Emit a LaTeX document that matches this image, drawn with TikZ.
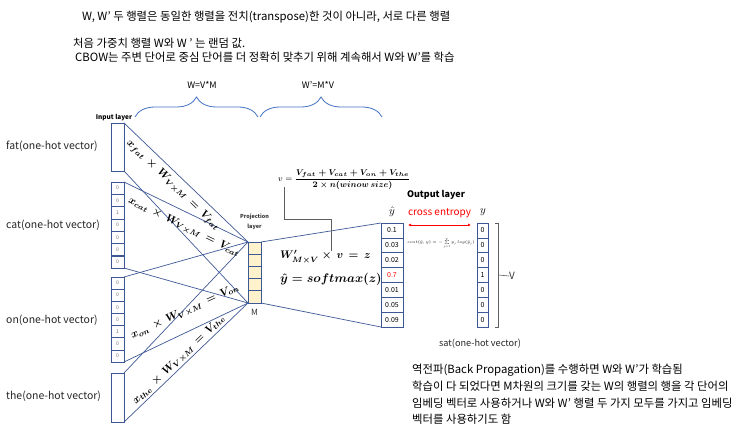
\RequirePackage{fix-cm}
\documentclass[tikz,border=0pt]{standalone}
\usepackage{amsmath}
\usepackage{fontspec}
\setmainfont{Noto Sans CJK KR}
\usetikzlibrary{decorations.pathreplacing,arrows.meta}
\definecolor{lineblue}{RGB}{62,88,150}
\definecolor{braceblue}{RGB}{68,114,196}
\definecolor{projfill}{RGB}{255,242,204}
\definecolor{mygray}{RGB}{95,95,95}
\definecolor{celltext}{RGB}{110,110,110}
\newcommand{\myfs}[1]{\fontsize{#1}{#1}\selectfont}
\tikzset{
  conn/.style={draw=lineblue, line width=0.7bp},
  vecbox/.style={draw=lineblue, line width=0.7bp, minimum width=13bp, inner sep=0pt, outer sep=0pt},
  incell/.style={draw=lineblue, line width=0.5bp, minimum width=13bp, minimum height=12.25bp, inner sep=0pt, outer sep=0pt, font=\myfs{5}, text=celltext},
  projcell/.style={draw=lineblue, line width=0.6bp, fill=projfill, minimum width=13bp, minimum height=12.2bp, inner sep=0pt, outer sep=0pt},
  outcell/.style={draw=lineblue, line width=0.6bp, minimum width=22bp, minimum height=14.86bp, inner sep=0pt, outer sep=0pt, font=\myfs{7}},
  ycell/.style={draw=lineblue, line width=0.6bp, minimum width=11bp, minimum height=14.86bp, inner sep=0pt, outer sep=0pt, font=\myfs{7}},
  ktext/.style={font=\myfs{11.4}, inner sep=0pt, anchor=west},
  wlabel/.style={font=\myfs{10.5}, inner sep=0pt, anchor=west, text=black!85},
  eqn/.style={font=\myfs{11}\boldmath, inner sep=0pt},
  curly/.style={draw=braceblue, line width=0.8bp, decorate, decoration={brace, amplitude=20bp, aspect=0.5}},
  vline/.style={draw=mygray, line width=0.6bp},
}
\begin{document}
\begin{tikzpicture}[x=1bp,y=-1bp]
\fill[white] (0,0) rectangle (746,433);
\useasboundingbox (0,0) rectangle (746,433);

% top texts
\node[ktext] (t1) at (82,17) {W, W' 두 행렬은 동일한 행렬을 전치(transpose)한 것이 아니라, 서로 다른 행렬};
\node[ktext] (t2) at (73,43) {처음 가중치 행렬 W와 W ' 는 랜덤 값.};
\node[ktext] (t3) at (75,57) {CBOW는 주변 단어로 중심 단어를 더 정확히 맞추기 위해 계속해서 W와 W'를 학습};

% braces
\draw[curly] (135,117) -- (258,117);
\draw[curly] (260,117) -- (382,117);
\node[font=\myfs{9}, inner sep=0pt] (wlab1) at (202,85) {W=V*M};
\node[font=\myfs{9}, inner sep=0pt] (wlab2) at (318,85) {W'=M*V};

% input layer
\node[font=\myfs{6.5}\bfseries, inner sep=0pt] (inlab) at (114,118) {Input layer};
\node[vecbox, minimum height=48bp] (fat) at (117.5,147) {};
\foreach \v [count=\i] in {0,0,1,0,0,0,0}
  \node[incell] (cat\i) at (117.5,{182+12.29*(\i-0.5)}) {\v};
\foreach \v [count=\i] in {0,0,0,0,1,0,0}
  \node[incell, minimum height=12.14bp] (on\i) at (117.5,{277+12.14*(\i-0.5)}) {\v};
\node[vecbox, minimum height=49bp] (the) at (117.5,397.5) {};

\node[wlabel] (lfat) at (6,146) {fat(one-hot vector)};
\node[wlabel] (lcat) at (6,225) {cat(one-hot vector)};
\node[wlabel] (lon) at (6,320) {on(one-hot vector)};
\node[wlabel] (lthe) at (6,396) {the(one-hot vector)};

% projection layer
\foreach \i in {1,...,5}
  \node[projcell] (p\i) at (254.5,{242+12.2*(\i-0.5)}) {};
\node[font=\myfs{5.5}\bfseries, inner sep=0pt, text=black!80] (plab1) at (254.5,217) {Projection};
\node[font=\myfs{5.5}\bfseries, inner sep=0pt, text=black!80] (plab2) at (254.5,227) {layer};
\node[font=\myfs{8.5}, inner sep=0pt, text=black!80] (mlab) at (254.5,312) {M};

% connectors input -> projection
\draw[conn] (fat.north east) -- (p1.north west);
\draw[conn] (fat.south east) -- (p5.south west);
\draw[conn] (cat1.north east) -- (p1.north west);
\draw[conn] (cat7.south east) -- (p5.south west);
\draw[conn] (on1.north east) -- (p1.north west);
\draw[conn] (on7.south east) -- (p5.south west);
\draw[conn] (the.north east) -- (p1.north west);
\draw[conn] (the.south east) -- (p5.south west);

% formulas along connectors
\node[eqn, rotate=-44] (eqfat) at (173,185) {$x_{fat}\,\times\,W_{V\times M}\,=\,V_{fat}$};
\node[eqn, rotate=-26] (eqcat) at (184,227) {$x_{cat}\,\times\,W_{V\times M}\,=\,V_{cat}$};
\node[eqn, rotate=25] (eqon) at (185,312) {$x_{on}\,\times\,W_{V\times M}\,=\,V_{on}$};
\node[eqn, rotate=44] (eqthe) at (179,360) {$x_{the}\,\times\,W_{V\times M}\,=\,V_{the}$};

% output layer
\foreach \v [count=\i] in {0.1,0.03,0.02,{\textcolor{red}{0.7}},0.01,0.05,0.09}
  \node[outcell] (yh\i) at (392,{223+14.86*(\i-0.5)}) {\v};
\foreach \v [count=\i] in {0,0,0,1,0,0,0}
  \node[ycell] (y\i) at (482.5,{223+14.86*(\i-0.5)}) {\v};
\draw[conn] (p1.north east) -- (yh1.north west);
\draw[conn] (p5.south east) -- (yh7.south west);

\node[font=\myfs{11}, inner sep=0pt] (yhlab) at (392,212) {$\hat{y}$};
\node[font=\myfs{11}, inner sep=0pt] (ylab) at (483,212) {$y$};
\node[font=\myfs{9}\bfseries, inner sep=0pt] (outlab) at (436,195) {Output layer};
\node[font=\myfs{10}, text=red, inner sep=0pt] (ce) at (439.5,213) {cross entropy};
\coordinate (cea) at (408,225);
\coordinate (ceb) at (471,225);
\draw[red, line width=0.7bp, {Latex[length=3bp,width=3bp]}-{Latex[length=3bp,width=3bp]}] (cea) -- (ceb);
\node[font=\myfs{4}, inner sep=0pt] (cost) at (441,243) {$cost(\hat y,y)=-\sum\limits_{j=1}^{V}y_j\,log(\hat y_j)$};

% V bracket
\draw[vline] (495,223) -- (498.5,223) -- (498.5,327) -- (495,327);
\coordinate (vmid) at (498.5,275);
\node[font=\myfs{10}, inner sep=0pt, anchor=west, text=black!80] (vlab) at (509,276) {V};
\draw[vline] (vmid) -- (vlab.west);
\node[font=\myfs{9.2}, inner sep=0pt, text=black!85] (sat) at (480,344) {sat(one-hot vector)};

% v definition and projection equations
\node[font=\myfs{8.5}, inner sep=0pt, anchor=west] (vdef) at (278,180) {$v=\dfrac{\boldsymbol{V_{fat}+V_{cat}+V_{on}+V_{the}}}{\boldsymbol{2\times n(winow\ size)}}$};
\node[eqn, font=\myfs{11}\boldmath, anchor=west] (eqz) at (280,257) {$W'_{M\times V}\times\,v\,=\,z$};
\node[eqn, font=\myfs{12.5}\boldmath, anchor=west] (eqsm) at (280,279) {$\hat{y}=softmax(z)$};
\coordinate (vtop) at (284,187);
\coordinate (vbot) at (331,251);
\draw[vline] (vtop) -- (284,219) -- (331,219) -- (vbot);

% bottom right text
\node[ktext] (b1) at (412,370) {역전파(Back Propagation)를 수행하면 W와 W'가 학습됨};
\node[ktext] (b2) at (412,386) {학습이 다 되었다면 M차원의 크기를 갖는 W의 행렬의 행을 각 단어의};
\node[ktext] (b3) at (412,403) {임베딩 벡터로 사용하거나 W와 W' 행렬 두 가지 모두를 가지고 임베딩};
\node[ktext] (b4) at (412,419) {벡터를 사용하기도 함};
\end{tikzpicture}
\end{document}
